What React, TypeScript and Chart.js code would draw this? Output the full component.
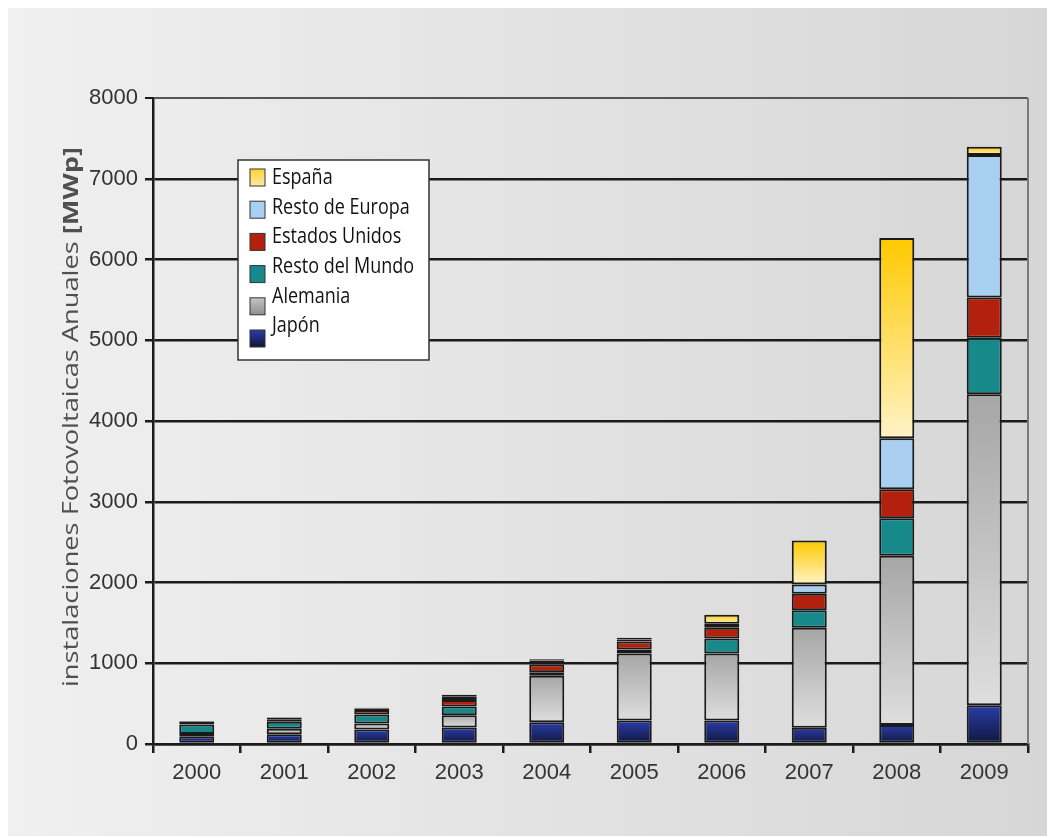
import React, { useEffect, useRef } from "react";
import { Chart, registerables } from "chart.js";

Chart.register(...registerables);

// ---- data ----
const years = ["2000", "2001", "2002", "2003", "2004", "2005", "2006", "2007", "2008", "2009"];
const japon = [95, 120, 180, 205, 270, 290, 290, 200, 235, 480];
const alemania = [30, 70, 75, 150, 575, 830, 830, 1240, 2095, 3850];
const restoMundo = [115, 85, 110, 110, 45, 50, 185, 215, 465, 700];
const estadosUnidos = [20, 30, 55, 80, 95, 100, 135, 205, 360, 500];
const restoEuropa = [20, 20, 20, 45, 50, 25, 50, 115, 630, 1765];
const espana = [5, 5, 10, 20, 15, 20, 110, 545, 2480, 100];

const yMin = 0;
const yMax = 8000;
const yStep = 1000;
const yTitleMain = "instalaciones Fotovoltaicas Anuales ";
const yTitleUnit = "[MWp]";

// stacking order bottom -> top
const seriesNames = ["Japón", "Alemania", "Resto del Mundo", "Estados Unidos", "Resto de Europa", "España"];
const seriesData = [japon, alemania, restoMundo, estadosUnidos, restoEuropa, espana];

type Stops = [number, string][];
const seriesStops: Stops[] = [
  [[0, "#2a3ca8"], [1, "#11173c"]],
  [[0, "#a6a6a6"], [0.6, "#c8c8c8"], [1, "#dedede"]],
  [[0, "#17898a"], [1, "#17898a"]],
  [[0, "#b3200d"], [1, "#b3200d"]],
  [[0, "#a9d0f1"], [1, "#a9d0f1"]],
  [[0, "#ffc900"], [1, "#fff3c6"]],
];
const legendStops: Stops[] = [
  [[0, "#2a3ca8"], [1, "#11173c"]],
  [[0, "#c4c4c4"], [1, "#8f8f8f"]],
  [[0, "#17898a"], [1, "#17898a"]],
  [[0, "#b3200d"], [1, "#b3200d"]],
  [[0, "#a9d0f1"], [1, "#a9d0f1"]],
  [[0, "#ffd23a"], [1, "#ffe9a0"]],
];

function makeGradient(ctx: CanvasRenderingContext2D, y0: number, y1: number, stops: Stops) {
  const g = ctx.createLinearGradient(0, y0, 0, y1 <= y0 ? y0 + 1 : y1);
  stops.forEach(([o, c]) => g.addColorStop(o, c));
  return g;
}

function segmentFill(c: any, dsIndex: number) {
  const stops = seriesStops[dsIndex];
  const chart = c.chart;
  if (c.type !== "data" || !chart.chartArea || !chart.scales || !chart.scales.y) return stops[0][1];
  const i = c.dataIndex;
  let base = 0;
  for (let k = 0; k < dsIndex; k++) base += seriesData[k][i];
  const top = base + seriesData[dsIndex][i];
  const ys = chart.scales.y;
  return makeGradient(chart.ctx, ys.getPixelForValue(top), ys.getPixelForValue(base), stops);
}

const decorPlugin = {
  id: "decor",
  afterDatasetsDraw(chart: any) {
    const { ctx, chartArea } = chart;
    ctx.save();
    // right border of plot
    ctx.strokeStyle = "#7a7a7a";
    ctx.lineWidth = 2;
    ctx.beginPath();
    ctx.moveTo(chartArea.right, chartArea.top);
    ctx.lineTo(chartArea.right, chartArea.bottom);
    ctx.stroke();

    // legend box
    const bx = chartArea.left + 85;
    const by = chartArea.top + 62;
    const bw = 191;
    const bh = 200;
    ctx.fillStyle = "#ffffff";
    ctx.fillRect(bx, by, bw, bh);
    ctx.strokeStyle = "#333333";
    ctx.lineWidth = 1.5;
    ctx.strokeRect(bx, by, bw, bh);

    const n = seriesNames.length;
    for (let r = 0; r < n; r++) {
      const di = n - 1 - r; // España first
      const sy = by + 9 + r * 32.2;
      const sx = bx + 12;
      ctx.fillStyle = makeGradient(ctx, sy, sy + 17, legendStops[di]);
      ctx.fillRect(sx, sy, 15, 17);
      ctx.strokeStyle = "#333";
      ctx.lineWidth = 1;
      ctx.strokeRect(sx, sy, 15, 17);
      const ty = by + 18 + r * 29.6;
      ctx.fillStyle = "#111";
      ctx.font = "18px 'Open Sans'";
      ctx.textAlign = "left";
      ctx.textBaseline = "middle";
      ctx.save();
      ctx.translate(bx + 34, ty);
      ctx.scale(1, 1.2);
      ctx.fillText(seriesNames[di], 0, 0);
      ctx.restore();
    }

    // y title, rotated, with bold unit
    const cx = 64;
    const cy = (chartArea.top + chartArea.bottom) / 2 - 4;
    ctx.translate(cx, cy);
    ctx.rotate(-Math.PI / 2);
    ctx.textBaseline = "middle";
    ctx.textAlign = "left";
    const fMain = "22px 'Open Sans'";
    const fUnit = "bold 22px 'Open Sans'";
    ctx.font = fMain;
    const w1 = ctx.measureText(yTitleMain).width;
    ctx.font = fUnit;
    const w2 = ctx.measureText(yTitleUnit).width;
    const targetLen = 540;
    const sx = targetLen / (w1 + w2);
    ctx.scale(sx, 1);
    const start = -(w1 + w2) / 2;
    ctx.fillStyle = "#505050";
    ctx.font = fMain;
    ctx.fillText(yTitleMain, start, 0);
    ctx.font = fUnit;
    ctx.fillText(yTitleUnit, start + w1, 0);
    ctx.restore();
  },
};

export default function App() {
  const ref = useRef<HTMLCanvasElement | null>(null);

  useEffect(() => {
    if (!ref.current) return;
    const datasets = seriesNames.map((name, k) => ({
      label: name,
      data: seriesData[k],
      backgroundColor: (c: any) => segmentFill(c, k),
      borderColor: "#1a1a1a",
      borderWidth: 2,
      borderSkipped: false as const,
      barPercentage: 0.4,
      categoryPercentage: 1,
    }));
    const chart = new Chart(ref.current, {
      type: "bar",
      data: { labels: years, datasets },
      options: {
        responsive: false,
        animation: false,
        layout: { padding: { top: 90, right: 27, left: 0, bottom: 0 } },
        plugins: { legend: { display: false }, tooltip: { enabled: false } },
        scales: {
          x: {
            stacked: true,
            offset: true,
            afterFit: (s: any) => {
              s.height = 92;
            },
            grid: {
              offset: true,
              drawOnChartArea: false,
              drawTicks: true,
              tickLength: 9,
              color: "#1b1b1b",
              lineWidth: 2.5,
            },
            border: { display: true, color: "#1b1b1b", width: 2.5 },
            ticks: {
              color: "#333",
              padding: 7,
              font: { family: "'Liberation Sans', Arial, sans-serif", size: 22 },
            },
          },
          y: {
            stacked: true,
            min: yMin,
            max: yMax,
            afterFit: (s: any) => {
              s.width = 145;
            },
            grid: {
              color: (c: any) => (c.tick && c.tick.value === yMax ? "#555" : "#1b1b1b"),
              lineWidth: (c: any) => (c.tick && c.tick.value === yMax ? 2 : 2.5),
              tickColor: "#1b1b1b",
              tickLength: 8,
            },
            border: { display: true, color: "#1b1b1b", width: 2.5 },
            ticks: {
              stepSize: yStep,
              color: "#333",
              padding: 7,
              callback: (v: any) => String(v),
              font: { family: "'Liberation Sans', Arial, sans-serif", size: 22 },
            },
          },
        },
      },
      plugins: [decorPlugin],
    });
    return () => chart.destroy();
  }, []);

  return (
    <div
      style={{
        position: "relative",
        width: 1047,
        height: 828,
        background: "linear-gradient(to right, #f0f0f0, #d6d6d6)",
      }}
    >
      <canvas ref={ref} width={1047} height={828} style={{ display: "block" }} />
    </div>
  );
}
